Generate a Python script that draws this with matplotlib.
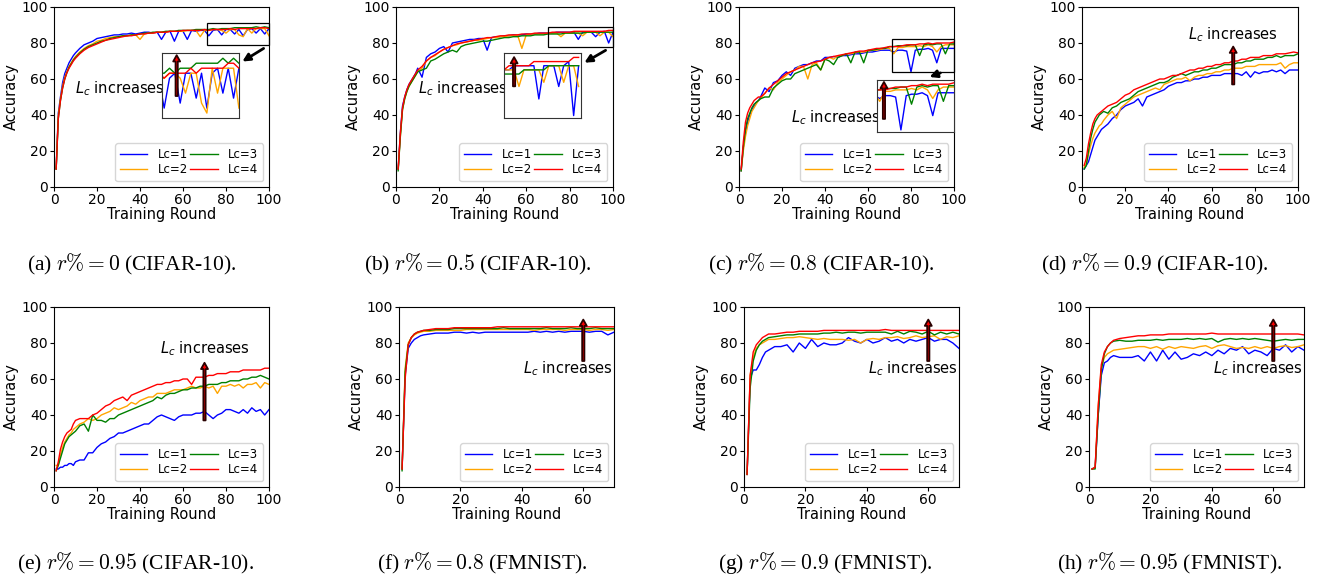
import matplotlib
matplotlib.use("Agg")
import matplotlib.pyplot as plt
from matplotlib.patches import Rectangle

# x positions (training rounds) used for the sampled curves
ROUNDS_100 = list(range(1, 11)) + list(range(12, 101, 2))
ROUNDS_70 = list(range(1, 9)) + list(range(10, 71, 2))

# (a) r% = 0, CIFAR-10
A_LC1 = [10, 41, 50, 58, 63, 66, 69, 71, 73, 74.5,
         77, 79, 80, 81, 82.5, 83, 83.5, 84, 84.5, 84.5,
         85, 85, 85.5, 85, 85.5, 86, 86, 85.5, 86, 82,
         86, 86.5, 81, 86.5, 86.5, 82, 87, 86.5, 87, 87,
         84, 87, 87.5, 84.5, 87.5, 87.5, 85, 87.5, 84, 87.5,
         88, 85.5, 88, 85, 88]
A_LC2 = [10, 40, 49, 56, 61, 64, 67, 69, 71, 72.5,
         75, 77, 78.5, 79.5, 81, 81.5, 82.5, 83, 83.5, 83.5,
         84, 84, 84.5, 84.5, 82, 85, 85.5, 85.5, 86, 86,
         86, 86.5, 86.5, 86.5, 86.5, 87, 87, 87, 83.5, 87,
         87, 87.5, 87.5, 87, 85.5, 87.5, 87.5, 84.5, 83.5, 88,
         85.5, 88, 88, 88, 84]
A_LC3 = [10, 38, 48, 55, 60, 63.5, 66.5, 68.5, 70.5, 72,
         74.5, 76.5, 78, 79, 80, 81, 81.5, 82.5, 83, 83.5,
         84, 84, 84.5, 84.5, 85, 85.5, 85.5, 86, 86, 86,
         86.5, 86.5, 86.5, 87, 87, 87, 87, 87.5, 87.5, 87.5,
         87.5, 88, 87.5, 88, 88, 88, 88.5, 88.5, 88.5, 88.5,
         88.5, 89, 88.5, 89, 88.5]
A_LC4 = [10, 38, 48, 55, 60, 63.5, 66, 68, 70, 71.5,
         74, 76, 77.5, 78.5, 79.5, 80.5, 81.5, 82, 82.5, 83,
         83.5, 84, 84, 84.5, 85, 85, 85.5, 85.5, 86, 86,
         86, 86.5, 86.5, 86.5, 87, 87, 87, 87, 87, 87.5,
         87, 87.5, 87.5, 87.5, 87.5, 88, 87.5, 88, 88, 88,
         88, 88, 88.5, 88.5, 88]

# (b) r% = 0.5, CIFAR-10
B_LC1 = [10, 30, 45, 50, 54, 57, 59, 61, 63, 66,
         61, 72, 74, 75, 77, 78, 75, 80, 80.5, 81,
         81.5, 82, 82, 82.5, 82.5, 76, 83, 83.5, 83.5, 84,
         84, 84.5, 84.5, 84.5, 85, 85, 85, 85.5, 85.5, 85.5,
         85.5, 86, 86, 86, 86, 86, 82, 86, 86, 86,
         83.5, 86, 86.5, 80, 86]
B_LC2 = [10, 28, 43, 49, 53, 56, 58, 60, 62, 64,
         66, 70, 72, 73, 75, 76.5, 77.5, 78.5, 79, 80,
         80.5, 81, 81.5, 81.5, 82, 82.5, 83, 83, 83.5, 83.5,
         84, 84, 84.5, 77, 84.5, 85, 85, 85, 85, 85.5,
         85.5, 85.5, 83.5, 85.5, 85.5, 85.5, 85.5, 84, 86, 86,
         86, 84, 86, 86, 83.5]
B_LC3 = [9, 28, 43, 49, 53, 56, 58, 60, 62, 64,
         65, 66, 70, 71, 72.5, 74, 75, 76, 75, 78,
         79, 79.5, 80, 80.5, 81, 81, 81.5, 82, 82.5, 83,
         83, 83.5, 83.5, 84, 84, 84, 84.5, 84.5, 84.5, 85,
         85, 85, 85, 85.5, 85.5, 85.5, 85.5, 85.5, 86, 86,
         86, 86, 86, 86, 86]
B_LC4 = [10, 30, 44, 50, 54, 57, 59, 61, 63, 65,
         67, 70, 72, 73.5, 75, 76.5, 77.5, 78.5, 79.5, 80,
         80.5, 81, 81.5, 82, 82.5, 83, 83, 83.5, 84, 84,
         84.5, 84.5, 84.5, 85, 85, 85, 85.5, 85.5, 85.5, 85.5,
         86, 86, 86, 86, 86, 86.5, 86.5, 86.5, 86.5, 86.5,
         86.5, 86.5, 86.5, 87, 87]

# (c) r% = 0.8, CIFAR-10
C_LC1 = [9, 22, 30, 36, 40, 43, 45, 47, 48, 50,
         55, 53, 58, 59, 62, 64, 62, 66, 67, 68,
         68, 69, 70, 70, 72, 72, 72.5, 72, 73, 73,
         73.5, 74, 74, 74.5, 75, 75, 75.5, 76, 76, 76,
         75, 76, 76, 75.5, 64, 76, 76.5, 76.5, 77, 76,
         69, 77, 77, 77, 77]
C_LC2 = [9, 20, 28, 34, 38, 42, 44, 46, 48, 49,
         52, 55, 54, 58, 60, 62, 64, 65, 67, 67,
         60, 68, 69, 65, 71, 72, 71, 73, 73, 74,
         74, 74.5, 75, 75, 75.5, 76, 76, 76.5, 77, 77,
         74, 77.5, 77.5, 78, 78, 78, 78.5, 78, 79, 78,
         75, 78, 79, 79, 79]
C_LC3 = [9, 22, 32, 38, 41, 44, 46, 47, 48, 49,
         50, 50, 55, 57, 59, 60, 60, 63, 64, 65,
         66, 67, 68, 65, 71, 70, 68, 72, 73, 74,
         69, 75, 75, 69, 76, 76, 76.5, 77, 77, 78,
         78, 78.5, 78.5, 78.5, 79, 79, 73, 79, 79.5, 79,
         79.5, 79.5, 74, 79.5, 79.5]
C_LC4 = [10, 25, 36, 41, 44, 46, 48, 49, 50, 50,
         52, 55, 57, 59, 61, 63, 64, 65, 66, 67,
         68, 69, 69.5, 70, 71, 72, 72.5, 73, 73.5, 74,
         74.5, 75, 75.5, 75.5, 76, 76.5, 77, 77, 77.5, 78,
         78, 78, 78.5, 79, 79, 79, 79.5, 79.5, 80, 79.5,
         80, 80, 80, 80, 80.5]

# (d) r% = 0.9, CIFAR-10
D_LC1 = [10, 12, 14, 18, 22, 26, 28, 30, 32, 33,
         35, 38, 40, 43, 45, 46, 47, 49, 45, 50,
         51, 52, 53, 54, 56, 57, 58, 58, 59, 59,
         60, 60, 61, 61, 62, 62, 62, 63, 63, 63,
         63, 62, 64, 61, 64, 63, 64, 64, 65, 64,
         65, 63, 65, 65, 65]
D_LC2 = [11, 13, 18, 23, 27, 30, 32, 34, 35, 37,
         40, 42, 38, 44, 46, 48, 50, 51, 52, 53,
         54, 55, 54, 57, 58, 59, 60, 60, 61, 59,
         61, 62, 62, 63, 63, 64, 64, 65, 65, 66,
         66, 66, 67, 67, 67, 68, 68, 68, 68, 68,
         69, 66, 68, 69, 69]
D_LC3 = [10, 12, 20, 27, 32, 36, 38, 40, 41, 42,
         41, 44, 45, 47, 48, 49, 51, 53, 54, 55,
         56, 57, 58, 58, 59, 61, 62, 63, 62, 63,
         64, 64, 65, 65, 66, 66, 67, 68, 68, 68,
         69, 69, 70, 70, 71, 71, 71, 72, 72, 73,
         72, 73, 73, 73, 74]
D_LC4 = [12, 16, 24, 30, 35, 38, 40, 41, 42, 43,
         45, 46, 47, 49, 51, 52, 54, 55, 56, 57,
         58, 59, 60, 60, 61, 62, 62, 63, 64, 65,
         65, 66, 66, 67, 67, 68, 68, 69, 69, 70,
         70, 71, 71, 72, 72, 72, 73, 73, 73, 74,
         74, 74, 74.5, 75, 74.5]

# (e) r% = 0.95, CIFAR-10
E_LC1 = [10, 10, 11, 11, 12, 12, 13, 13, 12, 14,
         15, 15, 19, 19, 22, 24, 25, 27, 28, 30,
         30, 31, 32, 33, 34, 35, 35, 37, 39, 40,
         39, 38, 37, 39, 40, 40, 40, 41, 41, 42,
         40, 38, 40, 41, 43, 43, 42, 41, 43, 41,
         44, 42, 43, 40, 43]
E_LC2 = [12, 12, 18, 22, 25, 27, 29, 30, 32, 33,
         35, 36, 38, 37, 38, 40, 41, 42, 44, 43,
         44, 45, 47, 46, 48, 49, 50, 50, 52, 52,
         52, 53, 54, 54, 54, 55, 56, 55, 55, 56,
         55, 56, 52, 56, 56, 57, 56, 57, 55, 57,
         57, 58, 55, 58, 57]
E_LC3 = [9, 12, 16, 20, 24, 26, 28, 29, 30, 31,
         34, 35, 31, 40, 37, 37, 36, 38, 38, 40,
         41, 42, 43, 44, 45, 46, 47, 48, 50, 49,
         51, 52, 52, 53, 54, 54, 55, 55, 56, 56,
         57, 57, 57, 58, 58, 59, 59, 59, 60, 60,
         61, 61, 62, 61, 60]
E_LC4 = [9, 14, 21, 25, 28, 30, 31, 32, 35, 37,
         38, 38, 38, 40, 41, 43, 45, 46, 48, 49,
         50, 48, 51, 52, 53, 54, 55, 56, 57, 57,
         58, 58, 59, 59, 60, 60, 57, 61, 61, 61,
         62, 62, 63, 63, 63, 64, 64, 64, 65, 65,
         65, 65, 65, 66, 66]

# (f) r% = 0.8, FMNIST
F_LC1 = [10, 62, 77, 80, 82, 83, 84, 84.5,
         85, 85.5, 85.5, 85.5, 86, 86, 85.5, 86, 85.5, 86,
         86, 86, 86, 86, 86, 86, 86, 86.5, 86, 86.5,
         86, 86.5, 86, 86.5, 86.5, 86.5, 86, 86.5, 86.5, 84.5, 86]
F_LC2 = [10, 66, 80, 83, 84.5, 85.5, 86, 86.5,
         86.5, 87, 87, 87, 87, 87, 87.5, 87.5, 87.5, 87.5,
         87.5, 87.5, 87.5, 87.5, 87.5, 87.5, 87.5, 87, 87.5, 87.5,
         87.5, 87.5, 87, 87.5, 87.5, 87.5, 87, 87.5, 87.5, 87, 87.5]
F_LC3 = [9, 64, 79, 83, 85, 86, 86.5, 87,
         87, 87.5, 87.5, 87.5, 88, 88, 88, 88, 88, 88,
         88, 88, 88.5, 88, 88, 88, 88, 88, 88, 88.5,
         88, 88, 88, 88.5, 88, 88, 88, 88.5, 88, 88, 88]
F_LC4 = [10, 60, 79, 83, 85, 86, 86.5, 87,
         87.5, 88, 88, 88, 88.5, 88.5, 88.5, 88.5, 88.5, 88.5,
         88.5, 89, 89, 89, 89, 89, 89, 89, 89, 89,
         89, 89, 89, 89, 89, 89, 89, 89, 89, 89, 89]

# (g) r% = 0.9, FMNIST
G_LC1 = [7, 60, 65, 65, 68, 72, 75, 76,
         78, 78, 79, 75, 80, 77, 82, 78, 80, 79,
         79, 80, 83, 81, 80, 82, 80, 81, 83, 81,
         82, 80, 82, 81, 82, 83, 81, 82, 82, 80, 77]
G_LC2 = [7, 62, 72, 77, 79, 80, 81, 82,
         82, 82.5, 83, 83, 83.5, 83, 82.5, 82, 82.5, 82,
         82, 82, 81.5, 82, 80, 82, 82.5, 82, 83, 83,
         83.5, 82.5, 83, 84, 83, 83.5, 84, 82, 83.5, 83, 84]
G_LC3 = [7, 55, 70, 76, 79, 81, 82, 83,
         83.5, 84, 84.5, 84.5, 85, 85, 85, 85, 85.5, 85.5,
         86, 85.5, 86, 86, 85.5, 86, 86, 86, 86, 85,
         86.5, 85, 86.5, 86, 85, 86.5, 84.5, 86, 85, 86, 85]
G_LC4 = [7, 62, 75, 79, 81, 83, 84, 85,
         85, 85.5, 86, 86, 86.5, 86.5, 86.5, 86.5, 87, 87,
         87, 87, 87, 87, 87, 87, 87, 87, 87.5, 87,
         87, 87, 87, 87, 87, 87, 87, 87, 87, 87, 87]

# (h) r% = 0.95, FMNIST
H_LC1 = [10, 11, 40, 62, 69, 70, 72, 73,
         72, 72, 72, 73, 70, 75, 70, 76, 71, 75,
         71, 72, 74, 73, 75, 73, 76, 74, 77, 76,
         78, 74, 76, 75, 73, 77, 76, 79, 75, 78, 76]
H_LC2 = [10, 11, 45, 66, 72, 74, 75, 76,
         76.5, 77, 77.5, 78, 78, 77, 78, 76.5, 78, 77,
         78, 77.5, 77, 78, 78.5, 77, 78.5, 79, 78, 77,
         77.5, 77, 78, 77, 78, 77, 78, 78.5, 77.5, 78, 79]
H_LC3 = [10, 10, 40, 65, 74, 78, 80, 81,
         81.5, 81, 81, 81.5, 81.5, 81.5, 82, 81.5, 82, 82,
         82, 82.5, 82, 82.5, 82, 82.5, 80.5, 82, 82.5, 82,
         82.5, 82, 82.5, 82, 81.5, 81, 81.5, 82, 81.5, 82, 82]
H_LC4 = [10, 11, 45, 68, 75, 78, 80, 81.5,
         82.5, 83, 83.5, 84, 84, 84.5, 84.5, 84.5, 85, 85,
         85, 85, 85, 85, 85, 85.5, 85, 85, 85, 85,
         85, 85, 85, 85, 85, 85, 85, 85, 85, 85, 84.5]

LABELS = ["Lc=1", "Lc=2", "Lc=3", "Lc=4"]
COLORS = ["blue", "orange", "green", "red"]
CAPTIONS = [
    r"(a) $r\%=0$ (CIFAR-10).", r"(b) $r\%=0.5$ (CIFAR-10).",
    r"(c) $r\%=0.8$ (CIFAR-10).", r"(d) $r\%=0.9$ (CIFAR-10).",
    r"(e) $r\%=0.95$ (CIFAR-10).", r"(f) $r\%=0.8$ (FMNIST).",
    r"(g) $r\%=0.9$ (FMNIST).", r"(h) $r\%=0.95$ (FMNIST).",
]

W, H = 1330, 587

panels = [
    # px = axes (left, top, width) in pixels; cap = caption centre
    dict(ys=[A_LC1, A_LC2, A_LC3, A_LC4], x=ROUNDS_100, xmax=100, px=(54, 7, 215), cap=(132, 264),
         zoom=dict(rect=(71, 79, 29, 12), inset=[0.50, 0.383, 0.36, 0.36], ilim=(71, 100, 83, 89.5),
                   arrow=((0.986, 0.778), (0.865, 0.689)), up=(0.196, 0.34, 0.97),
                   text=(0.098, 0.544))),
    dict(ys=[B_LC1, B_LC2, B_LC3, B_LC4], x=ROUNDS_100, xmax=100, px=(396, 7, 217), cap=(478, 264),
         zoom=dict(rect=(70, 78, 30, 11), inset=[0.498, 0.383, 0.355, 0.36], ilim=(70, 101, 79.7, 87.5),
                   arrow=((0.977, 0.767), (0.857, 0.683)), up=(0.13, 0.49, 0.94),
                   text=(0.10, 0.544))),
    dict(ys=[C_LC1, C_LC2, C_LC3, C_LC4], x=ROUNDS_100, xmax=100, px=(739, 7, 215), cap=(821, 264),
         zoom=dict(rect=(71, 64, 29, 18), inset=[0.642, 0.306, 0.358, 0.289], ilim=(71, 100, 63.3, 81.5),
                   arrow=((0.949, 0.639), (0.874, 0.606)), up=(0.09, 0.25, 0.96),
                   text=(0.242, 0.383))),
    dict(ys=[D_LC1, D_LC2, D_LC3, D_LC4], x=ROUNDS_100, xmax=100, px=(1082, 7, 216), cap=(1155, 264),
         arrow=(70, 57, 78), text=(70, 84.5)),
    dict(ys=[E_LC1, E_LC2, E_LC3, E_LC4], x=ROUNDS_100, xmax=100, px=(54, 307, 215), cap=(135, 563),
         arrow=(70, 37, 69), text=(70, 77)),
    dict(ys=[F_LC1, F_LC2, F_LC3, F_LC4], x=ROUNDS_70, xmax=70, px=(399, 307, 215), cap=(482, 563),
         arrow=(60, 70, 93), text=(55, 65.5)),
    dict(ys=[G_LC1, G_LC2, G_LC3, G_LC4], x=ROUNDS_70, xmax=70, px=(744, 307, 215), cap=(825, 563),
         arrow=(60, 70, 93), text=(55, 65.5)),
    dict(ys=[H_LC1, H_LC2, H_LC3, H_LC4], x=ROUNDS_70, xmax=70, px=(1089, 307, 215), cap=(1170, 563),
         arrow=(60, 70, 93), text=(55, 65.5)),
]

UP_ARROW = dict(facecolor="red", edgecolor="#2a0000", width=1.6, headwidth=5, headlength=4.5, lw=1.3)
TXT = r"$L_c$ increases"

fig = plt.figure(figsize=(W / 100, H / 100), dpi=100)

for i, p in enumerate(panels):
    left, top, width = p["px"]
    ax = fig.add_axes([left / W, (H - top - 180) / H, width / W, 180 / H])
    for y, c, lab in zip(p["ys"], COLORS, LABELS):
        ax.plot(p["x"], y, color=c, lw=1, label=lab)
    ax.set_xlim(0, p["xmax"])
    ax.set_ylim(0, 100)
    ax.set_xticks(range(0, p["xmax"] + 1, 20))
    ax.set_yticks(range(0, 101, 20))
    ax.tick_params(labelsize=10, length=3, pad=1.5)
    ax.set_xlabel("Training Round", fontsize=10.5, labelpad=0)
    ax.set_ylabel("Accuracy", fontsize=10.5, labelpad=2)
    ax.legend(loc="lower right", ncol=2, fontsize=8.5, handlelength=2.3, columnspacing=0.2,
              handletextpad=0.9, labelspacing=0.2, borderpad=0.4)

    if "zoom" in p:
        z = p["zoom"]
        rx, ry, rw, rh = z["rect"]
        ax.add_patch(Rectangle((rx, ry), rw, rh, fill=False, edgecolor="black", lw=0.9,
                               clip_on=False, zorder=4))
        ins = ax.inset_axes(z["inset"], zorder=5)
        for y, c in zip(p["ys"], COLORS):
            ins.plot(p["x"], y, color=c, lw=1)
        x0, x1, y0, y1 = z["ilim"]
        ins.set_xlim(x0, x1)
        ins.set_ylim(y0, y1)
        ins.set_xticks([])
        ins.set_yticks([])
        for s in ins.spines.values():
            s.set_color("#333333")
        (sx, sy), (ex, ey) = z["arrow"]
        ax.annotate("", xy=(ex, ey), xytext=(sx, sy), xycoords="axes fraction",
                    arrowprops=dict(arrowstyle="-|>", color="black", lw=2, mutation_scale=11),
                    zorder=6, annotation_clip=False)
        ux, uy0, uy1 = z["up"]
        ins.annotate("", xy=(ux, uy1), xytext=(ux, uy0), xycoords="axes fraction",
                     arrowprops=UP_ARROW, annotation_clip=False)
        ax.text(z["text"][0], z["text"][1], TXT, transform=ax.transAxes, fontsize=10.5,
                ha="left", va="center")
    else:
        axx, ay0, ay1 = p["arrow"]
        ax.annotate("", xy=(axx, ay1), xytext=(axx, ay0), arrowprops=UP_ARROW)
        ax.text(p["text"][0], p["text"][1], TXT, fontsize=10.5, ha="center", va="center")

    cx, cy = p["cap"]
    fig.text(cx / W, 1 - cy / H, CAPTIONS[i], ha="center", va="center", fontsize=15.5,
             family="Liberation Serif", math_fontfamily="cm")

fig.savefig("out.png", dpi=100)
